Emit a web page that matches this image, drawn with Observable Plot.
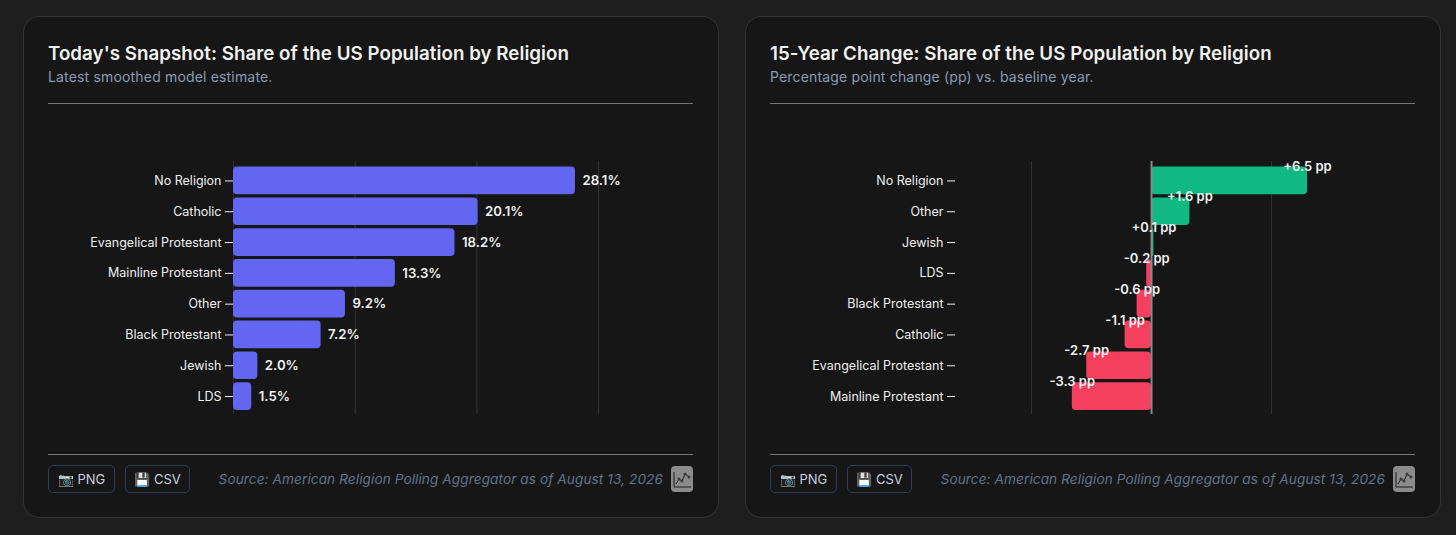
<!DOCTYPE html>
<html><head><meta charset="utf-8">
<script src="https://cdn.jsdelivr.net/npm/d3@7"></script>
<script src="https://cdn.jsdelivr.net/npm/@observablehq/plot@0.6"></script>
<style>
html,body{margin:0;padding:0;background:#1e1e1e;width:1456px;height:535px;overflow:hidden;font-family:Inter,"Noto Sans",sans-serif}
.card{position:absolute;top:16px;width:696px;height:502px;background:#161616;box-shadow:inset 0 0 0 1px #333436;border-radius:16px}
.title{position:absolute;left:25px;top:26px;font-size:18.72px;letter-spacing:.05px;font-weight:600;color:#f1f1ef;line-height:24px;white-space:nowrap}
.sub{position:absolute;left:25px;top:51px;font-size:14px;color:#8c9ab5;line-height:20px;white-space:nowrap;letter-spacing:.17px}
.hr{position:absolute;left:25px;width:645px;height:1px;background:#777}
.chart{position:absolute;left:25px;top:104px}
.btn{position:absolute;top:449px;height:26px;border:1px solid #2c3e5c;border-radius:5px;color:#c9d1de;font-size:13px;line-height:26px;text-align:center;white-space:nowrap}
.src{position:absolute;right:56px;top:453px;font-size:13.6px;font-style:italic;color:#64748b;line-height:20px;white-space:nowrap;letter-spacing:.1px}
.ico{position:absolute;left:648px;top:450px;width:22px;height:26px;background:#8b8b8b;border-radius:4px}
</style></head><body>
<div id="a" class="card" style="left:23px"></div>
<div id="b" class="card" style="left:745px"></div>
<script>
const snapCategories = ["No Religion","Catholic","Evangelical Protestant","Mainline Protestant","Other","Black Protestant","Jewish","LDS"];
const snapValues = [28.1,20.1,18.2,13.3,9.2,7.2,2.0,1.5];
const changeCategories = ["No Religion","Other","Jewish","LDS","Black Protestant","Catholic","Evangelical Protestant","Mainline Protestant"];
const changeValues = [6.5,1.6,0.1,-0.2,-0.6,-1.1,-2.7,-3.3];
const snapGrid = [0,10,20,30];
const changeGrid = [-5,0,5];
const sourceText = "Source: American Religion Polling Aggregator as of August 13, 2026";

const snapRows = snapCategories.map((c,i)=>({c,v:snapValues[i]}));
const changeRows = changeCategories.map((c,i)=>({c,v:changeValues[i]}));
const font = 'Inter,"Noto Sans",sans-serif';
const base = {width:645,height:320,marginTop:41,marginBottom:26,marginLeft:185,marginRight:65,
  style:{background:"transparent",color:"#f0f0f0",fontFamily:font,fontSize:"12.5px",display:"block"}};
const yAxis = {label:null,tickSize:8,tickPadding:4,insetTop:2.5,insetBottom:1,padding:0.1,round:false};

const snapPlot = Plot.plot({...base,
  x:{domain:[0,32.46],axis:null},
  y:{...yAxis,domain:snapCategories},
  marks:[
    Plot.ruleX(snapGrid,{stroke:"#333",strokeWidth:1}),
    Plot.barX(snapRows,{x:"v",y:"c",fill:"#6366f1",rx:4}),
    Plot.text(snapRows,{x:"v",y:"c",text:d=>d.v.toFixed(1)+"%",textAnchor:"start",dx:7,fill:"#f2f2f2",fontWeight:600,fontSize:13.2})
  ]});
const changePlot = Plot.plot({...base,
  x:{domain:[-8.167,8.29],axis:null},
  y:{...yAxis,domain:changeCategories},
  marks:[
    Plot.ruleX(changeGrid,{stroke:"#333",strokeWidth:1}),
    Plot.barX(changeRows,{x:"v",y:"c",fill:d=>d.v>=0?"#10b981":"#f43f5e",rx:4}),
    Plot.ruleX([0],{stroke:"#8a8a8a",strokeWidth:2}),
    Plot.text(changeRows,{x:"v",y:"c",text:d=>(d.v>0?"+":"")+d.v.toFixed(1)+" pp",textAnchor:"middle",dy:-14.5,fill:"#f2f2f2",fontWeight:600,fontSize:13})
  ]});

const icon = `<svg width="22" height="26" viewBox="0 0 22 26" style="display:block"><g fill="none" stroke="#1c1c1c" stroke-width="1"><path d="M3 6V21H20"/><path d="M5 18L8 13L11 15L14 8L18 11"/></g><g fill="#3a3a3a"><circle cx="8" cy="13" r="1.5"/><circle cx="11" cy="15" r="1.5"/><circle cx="14" cy="8" r="1.5"/><circle cx="18" cy="11" r="1.5"/></g></svg>`;
function fill(id,title,sub,plot){
  const el=document.getElementById(id);
  el.innerHTML=`<div class="title">${title}</div><div class="sub">${sub}</div><div class="hr" style="top:87px"></div><div class="chart"></div><div class="hr" style="top:438px"></div>
  <div class="btn" style="left:25px;width:65px">📷 PNG</div><div class="btn" style="left:102px;width:63px">💾 CSV</div>
  <div class="src">${sourceText}</div><div class="ico">${icon}</div>`;
  el.querySelector(".chart").appendChild(plot);
}
fill("a","Today's Snapshot: Share of the US Population by Religion","Latest smoothed model estimate.",snapPlot);
fill("b","15-Year Change: Share of the US Population by Religion","Percentage point change (pp) vs. baseline year.",changePlot);
</script>
</body></html>
